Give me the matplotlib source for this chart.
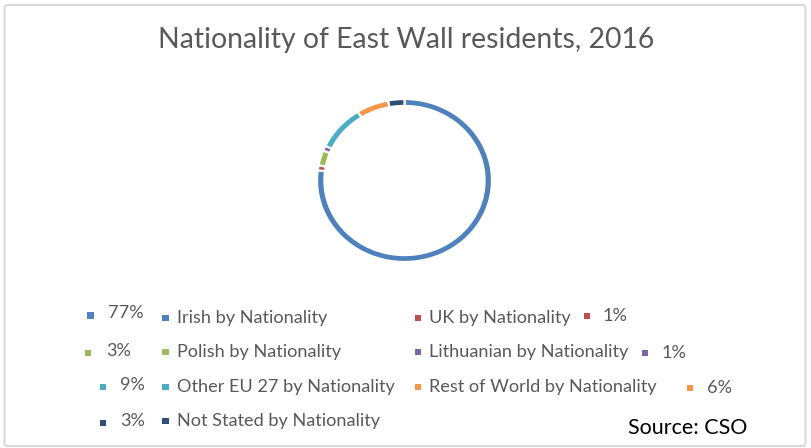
import matplotlib.pyplot as plt
from matplotlib.patches import Rectangle, FancyBboxPatch

# nationality shares, East Wall, census 2016 (CSO)
labels = ['Irish by Nationality', 'UK by Nationality', 'Polish by Nationality',
          'Lithuanian by Nationality', 'Other EU 27 by Nationality',
          'Rest of World by Nationality', 'Not Stated by Nationality']
shares = [77, 1, 3, 1, 9, 6, 3]
colors = ['#4F81BD', '#C0504D', '#9BBB59', '#8064A2', '#4BACC6', '#F79646', '#2C4D75']

plt.rcParams['font.family'] = ['Lato', 'DejaVu Sans']
W, H = 812, 448
fig = plt.figure(figsize=(W / 100, H / 100), dpi=100)

# thin ring, starts at 12 o'clock and runs clockwise
cx, cy, rx, ry = 404.5, 180.5, 87.5, 81.5
ax = fig.add_axes([(cx - rx) / W, 1 - (cy + ry) / H, 2 * rx / W, 2 * ry / H])
ax.pie(shares, colors=colors, startangle=90, counterclock=False, radius=1,
       wedgeprops=dict(width=0.085, edgecolor='white', linewidth=1.6))
ax.set_aspect('auto')
ax.set_xlim(-1, 1)
ax.set_ylim(-1, 1)
ax.axis('off')

# overlay in pixel units for frame, title and the legend block
ov = fig.add_axes([0, 0, 1, 1], zorder=-1)
ov.set_xlim(0, W)
ov.set_ylim(H, 0)
ov.axis('off')
ov.add_patch(FancyBboxPatch((4.5, 5), 801, 441, boxstyle='round,pad=0,rounding_size=3',
                            fill=False, edgecolor='#D9D9D9', linewidth=1.5))

ov.text(406, 40, 'Nationality of East Wall residents, 2016', ha='center', va='center',
        fontsize=20.4, color='#595959')

grey = '#595959'
fs = 13.1


def square(x, y, c):
    ov.add_patch(Rectangle((x - 3, y - 3), 6.5, 6.5, color=c, linewidth=0))


def pct(i):
    return f'{shares[i]}%'


# left column of percent labels
left = [(90.5, 313.5, 108, 0), (88, 351, 106, 2), (103, 385, 120, 4), (103, 421, 120, 6)]
for mx, y, tx, i in left:
    square(mx, y + 2, colors[i])
    ov.text(tx, y, pct(i), ha='left', va='center', fontsize=fs, color=grey)

# legend entries, two columns
rows = [318, 352, 387, 421]
for k, i in enumerate([0, 2, 4, 6]):
    square(165.5, rows[k], colors[i])
    ov.text(177, rows[k], labels[i], ha='left', va='center', fontsize=fs, color=grey)
for k, i in enumerate([1, 3, 5]):
    square(418, rows[k], colors[i])
    ov.text(429, rows[k], labels[i], ha='left', va='center', fontsize=fs, color=grey)

# right-hand percent labels
right = [(587, 316, 603, 1), (645, 353, 662, 3), (690, 388, 707, 5)]
for mx, y, tx, i in right:
    square(mx, y, colors[i])
    ov.text(tx, y, pct(i), ha='left', va='center', fontsize=fs, color=grey)

ov.text(628, 428, 'Source: CSO', ha='left', va='center', fontsize=15.5, color='black')

fig.savefig('out.png', dpi=100, facecolor='white')
